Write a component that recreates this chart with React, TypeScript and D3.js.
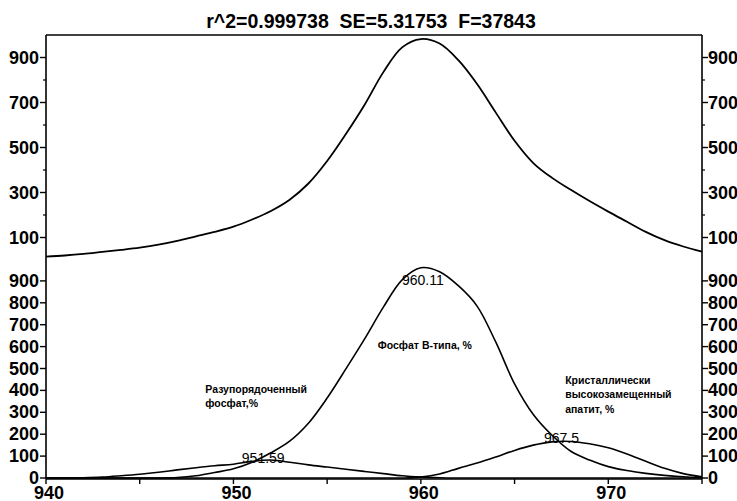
import React, { useEffect, useRef } from "react";
import * as d3 from "d3";

// wavenumber grid, cm-1
const wavenumbers = [
  940, 941, 942, 943, 944, 945, 946, 947, 948, 949, 950, 951,
  952, 953, 954, 955, 956, 957, 958, 959, 960, 961, 962, 963,
  964, 965, 966, 967, 968, 969, 970, 971, 972, 973, 974, 975,
];

// upper panel: fitted sum
const fitTotal = [
  15, 20, 27, 36, 45, 55, 68, 85, 105, 125, 148, 180,
  218, 268, 340, 440, 560, 690, 835, 945, 982, 962, 888, 782,
  655, 530, 431, 365, 312, 262, 215, 170, 125, 88, 60, 37,
];

// lower panel: components
const disorderedPhosphate = [
  0, 0, 1, 4, 10, 17, 26, 37, 47, 56, 63, 76,
  82, 72, 60, 50, 40, 30, 20, 10, 4, 1, 0, 0,
  0, 0, 0, 0, 0, 0, 0, 0, 0, 0, 0, 0,
];
const bTypePhosphate = [
  0, 0, 0, 0, 0, 0, 0, 2, 10, 25, 42, 72,
  115, 168, 250, 365, 498, 635, 780, 905, 960, 942, 878, 785,
  620, 430, 290, 195, 122, 82, 52, 34, 21, 12, 6, 2,
];
const crystallineApatite = [
  0, 0, 0, 0, 0, 0, 0, 0, 0, 0, 0, 0,
  0, 0, 0, 0, 0, 0, 0, 0, 4, 18, 44, 68,
  96, 126, 150, 165, 167, 156, 138, 110, 76, 44, 20, 5,
];

const peakCenters = [951.59, 960.11, 967.5];
const peakLabelLevels = [68, 881, 160];

const componentNames = [
  ["Разупорядоченный", "фосфат,%"],
  ["Фосфат В-типа, %"],
  ["Кристаллически", "высокозамещенный", "апатит, %"],
];
const componentLabelX = [948.5, 957.7, 967.7];
const componentLabelY = [390, 590, 430];

const xTicks = [940, 950, 960, 970];
const xMinorTicks = [945, 955, 965, 975];
const upperTicks = [100, 300, 500, 700, 900];
const upperMinorTicks = [200, 400, 600, 800];
const lowerTicks = [0, 100, 200, 300, 400, 500, 600, 700, 800, 900];

const title = "r^2=0.999738  SE=5.31753  F=37843";

const FONT = "'Liberation Sans', Arial, Helvetica, sans-serif";

function PeakFitChart() {
  const ref = useRef<SVGSVGElement>(null);

  useEffect(() => {
    const svg = d3.select(ref.current);
    svg.selectAll("*").remove();

    var left = 46, right = 702, top = 35, mid = 260, bottom = 478;

    var x = d3.scaleLinear().domain([940, 975]).range([left, right]);
    var yTop = d3.scaleLinear().domain([0, 1000]).range([mid, top]);
    var yBot = d3.scaleLinear().domain([0, 1000]).range([bottom, 259]);

    svg.append("text")
      .attr("x", 371)
      .attr("y", 28)
      .attr("text-anchor", "middle")
      .style("white-space", "pre")
      .style("font", "bold 19.5px " + FONT)
      .text(title);

    // frame: left, right, top, bottom
    const frame = svg.append("g").attr("stroke", "#000").attr("stroke-width", 1.6);
    frame.append("line").attr("x1", left).attr("x2", left).attr("y1", top).attr("y2", bottom + 1);
    frame.append("line").attr("x1", right).attr("x2", right).attr("y1", top).attr("y2", bottom + 1);
    frame.append("line").attr("x1", left).attr("x2", right).attr("y1", top).attr("y2", top);
    frame.append("line").attr("x1", left).attr("x2", right).attr("y1", bottom + 1).attr("y2", bottom + 1);

    const drawY = (scale: d3.ScaleLinear<number, number>, ticks: number[], minor: number[]) => {
      const g = svg.append("g");
      ticks.forEach((v) => {
        const yy = scale(v);
        g.append("line").attr("x1", left - 6).attr("x2", left).attr("y1", yy).attr("y2", yy)
          .attr("stroke", "#000").attr("stroke-width", 1.4);
        g.append("line").attr("x1", right).attr("x2", right + 6).attr("y1", yy).attr("y2", yy)
          .attr("stroke", "#000").attr("stroke-width", 1.4);
        g.append("text").attr("x", left - 7).attr("y", yy + 6).attr("text-anchor", "end")
          .style("font", "bold 18px " + FONT).text(v);
        g.append("text").attr("x", right + 6).attr("y", yy + 6).attr("text-anchor", "start")
          .style("font", "bold 18px " + FONT).text(v);
      });
      minor.forEach((v) => {
        const yy = scale(v);
        g.append("line").attr("x1", left - 3).attr("x2", left).attr("y1", yy).attr("y2", yy)
          .attr("stroke", "#000").attr("stroke-width", 1.2);
        g.append("line").attr("x1", right).attr("x2", right + 3).attr("y1", yy).attr("y2", yy)
          .attr("stroke", "#000").attr("stroke-width", 1.2);
      });
    };
    drawY(yTop, upperTicks, upperMinorTicks);
    drawY(yBot, lowerTicks, []);

    // x axis
    const gx = svg.append("g");
    xTicks.concat(xMinorTicks).forEach((v) => {
      gx.append("line").attr("x1", x(v)).attr("x2", x(v)).attr("y1", bottom + 1).attr("y2", bottom + 6)
        .attr("stroke", "#000").attr("stroke-width", 1.4);
    });
    xTicks.forEach((v) => {
      gx.append("text").attr("x", x(v) + 3).attr("y", 499).attr("text-anchor", "middle")
        .style("font", "bold 18px " + FONT).text(v);
    });

    const lineTop = d3.line<number>()
      .x((d, i) => x(wavenumbers[i]))
      .y((d) => yTop(d))
      .curve(d3.curveCatmullRom.alpha(0.5));
    const lineBot = d3.line<number>()
      .x((d, i) => x(wavenumbers[i]))
      .y((d) => yBot(d))
      .curve(d3.curveCatmullRom.alpha(0.5));

    svg.append("path").attr("d", lineTop(fitTotal))
      .attr("fill", "none").attr("stroke", "#000").attr("stroke-width", 1.8);

    [disorderedPhosphate, bTypePhosphate, crystallineApatite].forEach((s) => {
      svg.append("path").attr("d", lineBot(s))
        .attr("fill", "none").attr("stroke", "#000").attr("stroke-width", 1.6);
    });

    // peak position labels
    peakCenters.forEach((c, i) => {
      svg.append("text").attr("x", x(c)).attr("y", yBot(peakLabelLevels[i]))
        .attr("text-anchor", "middle")
        .style("font", "14px " + FONT)
        .text(c);
    });

    // component names
    componentNames.forEach((lines, i) => {
      const t = svg.append("text")
        .attr("x", x(componentLabelX[i]))
        .attr("y", yBot(componentLabelY[i]))
        .style("font", "bold 10.5px " + FONT);
      lines.forEach((s, j) => {
        t.append("tspan").attr("x", x(componentLabelX[i])).attr("dy", j === 0 ? 0 : 14.5).text(s);
      });
    });
  }, []);

  return (
    <svg ref={ref} width={737} height={501}
      style={{ position: "absolute", left: 0, top: 0, background: "#fff" }} />
  );
}

export default function App() {
  return <PeakFitChart />;
}
